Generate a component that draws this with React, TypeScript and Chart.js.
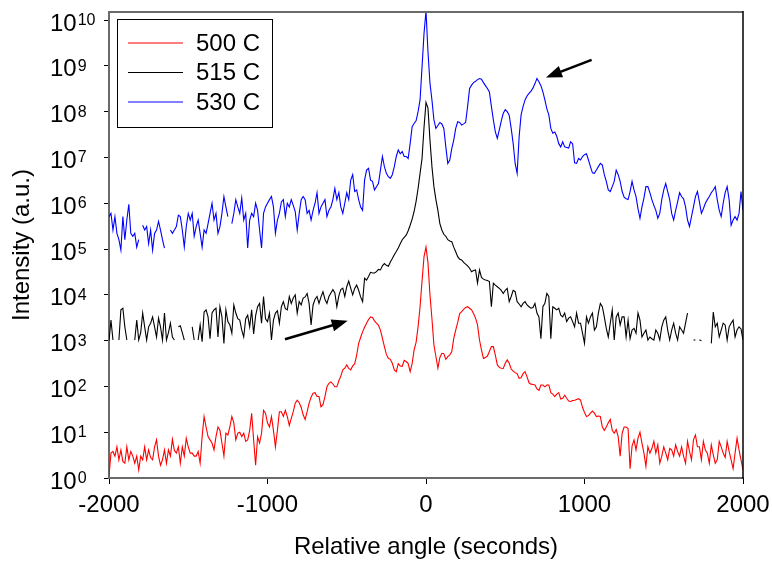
import React, { useEffect, useRef } from 'react';
import { Chart, registerables } from 'chart.js';

Chart.register(...registerables);

// Relative angle (seconds)
const ANGLES = [
  -2000, -1987.5, -1975, -1962.5, -1950, -1937.5, -1925, -1912.5, -1900, -1887.5, -1875, -1862.5, -1850, -1837.5, -1825, -1812.5,
  -1800, -1787.5, -1775, -1762.5, -1750, -1737.5, -1725, -1712.5, -1700, -1687.5, -1675, -1662.5, -1650, -1637.5, -1625, -1612.5,
  -1600, -1587.5, -1575, -1562.5, -1550, -1537.5, -1525, -1512.5, -1500, -1487.5, -1475, -1462.5, -1450, -1437.5, -1425, -1412.5,
  -1400, -1387.5, -1375, -1362.5, -1350, -1337.5, -1325, -1312.5, -1300, -1287.5, -1275, -1262.5, -1250, -1237.5, -1225, -1212.5,
  -1200, -1187.5, -1175, -1162.5, -1150, -1137.5, -1125, -1112.5, -1100, -1087.5, -1075, -1062.5, -1050, -1037.5, -1025, -1012.5,
  -1000, -987.5, -975, -962.5, -950, -937.5, -925, -912.5, -900, -887.5, -875, -862.5, -850, -837.5, -825, -812.5,
  -800, -787.5, -775, -762.5, -750, -737.5, -725, -712.5, -700, -687.5, -675, -662.5, -650, -637.5, -625, -612.5,
  -600, -587.5, -575, -562.5, -550, -537.5, -525, -512.5, -500, -487.5, -475, -462.5, -450, -437.5, -425, -412.5,
  -400, -387.5, -375, -362.5, -350, -337.5, -325, -312.5, -300, -287.5, -275, -262.5, -250, -237.5, -225, -212.5,
  -200, -187.5, -175, -162.5, -150, -137.5, -125, -112.5, -100, -87.5, -75, -62.5, -50, -37.5, -25, -12.5,
  0, 12.5, 25, 37.5, 50, 62.5, 75, 87.5, 100, 112.5, 125, 137.5, 150, 162.5, 175, 187.5,
  200, 212.5, 225, 237.5, 250, 262.5, 275, 287.5, 300, 312.5, 325, 337.5, 350, 362.5, 375, 387.5,
  400, 412.5, 425, 437.5, 450, 462.5, 475, 487.5, 500, 512.5, 525, 537.5, 550, 562.5, 575, 587.5,
  600, 612.5, 625, 637.5, 650, 662.5, 675, 687.5, 700, 712.5, 725, 737.5, 750, 762.5, 775, 787.5,
  800, 812.5, 825, 837.5, 850, 862.5, 875, 887.5, 900, 912.5, 925, 937.5, 950, 962.5, 975, 987.5,
  1000, 1012.5, 1025, 1037.5, 1050, 1062.5, 1075, 1087.5, 1100, 1112.5, 1125, 1137.5, 1150, 1162.5, 1175, 1187.5,
  1200, 1212.5, 1225, 1237.5, 1250, 1262.5, 1275, 1287.5, 1300, 1312.5, 1325, 1337.5, 1350, 1362.5, 1375, 1387.5,
  1400, 1412.5, 1425, 1437.5, 1450, 1462.5, 1475, 1487.5, 1500, 1512.5, 1525, 1537.5, 1550, 1562.5, 1575, 1587.5,
  1600, 1612.5, 1625, 1637.5, 1650, 1662.5, 1675, 1687.5, 1700, 1712.5, 1725, 1737.5, 1750, 1762.5, 1775, 1787.5,
  1800, 1812.5, 1825, 1837.5, 1850, 1862.5, 1875, 1887.5, 1900, 1912.5, 1925, 1937.5, 1950, 1962.5, 1975, 1987.5,
  2000,
];

const SERIES_LABELS = ['500 C', '515 C', '530 C'];
const SERIES_COLORS = ['#ff0000', '#000000', '#0000ff'];

// 500 C intensity (a.u.)
const I_500 = [
  1.1, 3.5, 3.8, 3.0, 4.8, 2.5, 4.1, 2.3, 2.1, 4.8, 2.5, 3.8, 3.0, 2.1, 3.0, 1.5,
  3.0, 2.5, 4.8, 2.5, 4.1, 2.8, 2.5, 4.8, 6.8, 3.0, 1.9, 2.5, 4.1, 2.1, 4.1, 3.0,
  7.0, 4.0, 3.5, 4.8, 2.1, 4.8, 3.0, 7.4, 4.8, 3.5, 3.5, 3.0, 3.0, 3.8, 2.1, 8.0,
  22, 13, 8.0, 6.8, 5.8, 4.1, 8.0, 13, 11, 5.8, 3.0, 9.5, 8.7, 13, 22, 16,
  6.8, 9.5, 10, 8.0, 9.5, 6.3, 6.8, 11, 26, 6.8, 1.9, 8.0, 5.8, 9.5, 30, 26,
  16, 13, 22, 11, 4.8, 11, 28, 28, 22, 30, 22, 14, 20, 28, 43, 50,
  44, 35, 24, 19, 28, 43, 58, 71, 73, 60, 60, 36, 40, 60, 98, 117,
  125, 113, 98, 98, 133, 168, 230, 250, 295, 247, 230, 280, 310, 480, 870, 1170,
  1550, 1950, 2400, 2900, 3300, 3200, 2700, 2400, 2150, 1700, 1130, 740, 500, 410, 390, 320,
  230, 210, 315, 280, 275, 370, 350, 315, 210, 315, 630, 920, 2000, 5500, 2.0e4, 6.8e4,
  1.1e5, 5.0e4, 1.0e4, 3000, 800, 450, 250, 430, 530, 520, 390, 445, 490, 570, 1120, 1700,
  2500, 3900, 4300, 4800, 5300, 5500, 5100, 4700, 3900, 3100, 2200, 1030, 630, 410, 430, 460,
  580, 740, 740, 480, 295, 260, 250, 247, 320, 380, 320, 240, 215, 200, 190, 150,
  155, 190, 210, 162, 120, 112, 110, 107, 88, 82, 107, 107, 98, 107, 107, 73,
  68, 60, 68, 73, 53, 55, 64, 55, 48, 47, 49, 50, 52, 54, 50, 35,
  27, 22, 23, 26, 29, 26, 22, 22.5, 22, 13, 11, 13, 16, 19, 11, 9.5,
  11.5, 8.0, 3.0, 9.5, 13, 13, 12, 1.6, 5.0, 6.8, 4.1, 7.4, 10, 5.8, 3.5, 1.8,
  4.8, 3.5, 4.4, 6.3, 3.5, 5.3, 2.1, 3.0, 4.8, 3.5, 2.5, 4.4, 4.1, 3.0, 5.3, 3.8,
  3.0, 4.8, 3.0, 2.1, 6.3, 3.8, 2.5, 6.8, 8.7, 4.8, 4.8, 2.5, 6.3, 4.1, 3.5, 2.1,
  5.3, 3.2, 2.1, 2.5, 6.3, 4.8, 3.5, 2.8, 6.3, 3.8, 2.5, 1.6, 3.5, 7.4, 4.1, 2.5,
  1.5,
];

// 515 C intensity (a.u.)
const I_515 = [
  1.0e3, 2.8e3, 1.03e3, null, null, 1.03e3, 4.7e3, 5.1e3, 2.0e3, 1.03e3, null, null, null, 1.03e3, 2.8e3, 1.03e3,
  1.5e3, 4.0e3, 2.0e3, 1.03e3, 2.0e3, 2.4e3, 3.3e3, 2.0e3, 1.2e3, 3.1e3, 2.0e3, 1.03e3, 4.0e3, 1.03e3, 1.5e3, 2.4e3,
  1.2e3, 1.03e3, null, 2.0e3, 2.1e3, 1.5e3, 1.03e3, null, null, null, 2.0e3, 1.03e3, null, 1.03e3, 2.2e3, 9.5e2,
  4.2e3, 4.7e3, 3.3e3, 1.1e3, 4.0e3, 4.7e3, 5.1e3, 1.2e3, 5.5e3, 3.3e3, 8.7e2, 4.7e3, 2.6e3, 2.2e3, 1.45e3, 6.0e3,
  4.0e3, 3.0e3, 2.8e3, 1.7e3, 1.2e3, 3.0e3, 3.6e3, 2.0e3, 4.7e3, 1.4e3, 3.5e3, 5.5e3, 6.5e3, 2.4e3, 9.2e3, 3.0e3,
  2.6e3, 4.0e3, 1.03e3, 2.8e3, 4.0e3, 4.5e3, 2.4e3, 5.5e3, 7.1e3, 5.0e3, 4.7e3, 9.2e3, 6.5e3, 8.5e3, 1.0e4, 4.0e3,
  7.1e3, 6.0e3, 8.5e3, 9.0e3, 1.07e4, 6.5e3, 2.2e3, 6.0e3, 8.0e3, 9.2e3, 6.5e3, 9.0e3, 1.17e4, 8.0e3, 6.5e3, 9.2e3,
  1.1e4, 1.3e4, 1.1e4, 5.5e3, 9.5e3, 1.3e4, 1.4e4, 9.2e3, 1.5e4, 2.0e4, 1.4e4, 1.0e4, 1.38e4, 1.63e4, 1.26e4, 9.0e3,
  7.1e3, 2.3e4, 2.1e4, 2.5e4, 3.1e4, 3.0e4, 3.0e4, 3.2e4, 3.6e4, 3.5e4, 4.3e4, 4.8e4, 4.4e4, 4.2e4, 5.2e4, 6.2e4,
  7.5e4, 8.8e4, 1.05e5, 1.3e5, 1.6e5, 1.8e5, 2.0e5, 2.5e5, 3.3e5, 4.5e5, 6.6e5, 1.1e6, 2.1e6, 4.5e6, 9.5e6, 4.5e7,
  1.6e8, 1.2e8, 2.4e7, 6.3e6, 2.3e6, 1.2e6, 7.0e5, 3.6e5, 2.6e5, 2.1e5, 1.9e5, 1.6e5, 1.5e5, 1.45e5, 1.1e5, 8.7e4,
  6.8e4, 6.0e4, 5.8e4, 5.1e4, 4.7e4, 4.3e4, 3.8e4, 3.2e4, 3.4e4, 3.5e4, 1.8e4, 3.5e4, 2.4e4, 2.2e4, 2.1e4, 2.05e4,
  1.95e4, 5.5e3, 1.8e4, 1.63e4, 1.5e4, 1.38e4, 1.25e4, 1.07e4, 1.26e4, 1.38e4, 7.1e3, 9.2e3, 1.25e4, 1.17e4, 7.1e3, 6.3e3,
  5.5e3, 6.5e3, 7.1e3, 6.0e3, 5.5e3, 5.1e3, 5.3e3, 6.5e3, 4.0e3, 3.3e3, 1.1e3, 5.5e3, 6.5e3, 1.07e4, 9.2e3, 1.1e3,
  5.5e3, 5.1e3, 4.7e3, 5.1e3, 3.6e3, 3.3e3, 4.0e3, 2.6e3, 3.1e3, 3.3e3, 2.6e3, 2.0e3, 4.0e3, 2.4e3, 2.4e3, 1.45e3,
  8.7e2, 3.3e3, 2.4e3, 3.3e3, 4.0e3, 1.7e3, 2.0e3, 4.0e3, 6.5e3, 5.5e3, 3.3e3, 1.85e3, 1.2e3, 2.4e3, 4.7e3, 1.03e3,
  3.3e3, 4.0e3, 2.2e3, 3.3e3, 3.3e3, 1.2e3, 2.8e3, 1.1e3, 1.7e3, 1.85e3, 1.45e3, 4.0e3, 2.8e3, 1.2e3, 1.45e3, 1.7e3,
  1.03e3, 1.2e3, 1.1e3, 1.03e3, 1.7e3, 1.45e3, 1.03e3, 2.0e3, 2.8e3, 3.3e3, 1.7e3, 1.03e3, 1.7e3, 2.4e3, 1.45e3, 1.03e3,
  2.0e3, 1.7e3, 1.45e3, 2.4e3, 4.0e3, null, null, 1.03e3, 1.03e3, null, 1.03e3, 1.0e3, null, null, null, null,
  8.7e2, 4.2e3, 2.0e3, 2.4e3, 1.2e3, 1.7e3, 2.4e3, 2.2e3, 1.03e3, 2.0e3, 2.4e3, 2.8e3, 1.2e3, 1.7e3, 2.0e3, 1.8e3,
  1.03e3,
];

// 530 C intensity (a.u.)
const I_530 = [
  5.1e5, 6.0e5, 2.6e5, 5.1e5, 2.2e5, 1.6e5, 9.5e4, 5.1e5, 1.6e5, 4.3e5, 9.5e5, 2.2e5, 1.9e5, 2.2e5, 1.1e5, 1.6e5,
  null, 3.3e5, 2.6e5, 3.1e5, 1.3e5, 2.6e5, 9.5e4, 2.2e5, 2.6e5, 4.0e5, 2.6e5, 1.6e5, 1.05e5, null, null, 2.6e5,
  2.2e5, 2.6e5, 3.1e5, 5.5e5, 5.1e5, 2.6e5, 1.1e5, 3.1e5, 6.0e5, 4.3e5, 6.0e5, 1.9e5, 3.1e5, 4.3e5, 2.2e5, 1.1e5,
  2.6e5, 2.2e5, 3.6e5, 6.0e5, 1.0e6, 4.3e5, 6.0e5, 2.2e5, 3.1e5, 6.0e5, 1.4e6, 8.3e5, 5.1e5, null, 3.6e5, 6.0e5,
  1.2e6, 8.3e5, 6.0e5, 1.3e6, 4.3e5, 6.0e5, 1.05e5, 4.3e5, 6.0e5, 5.1e5, 1.0e6, 7.0e5, 2.6e5, 1.05e5, 6.0e5, 8.3e5,
  1.0e6, 1.2e6, 1.4e6, 8.3e5, 2.2e5, 4.3e5, 6.0e5, 1.07e6, 1.2e6, 5.1e5, 1.0e6, 8.3e5, 1.2e6, 9.0e5, 6.6e5, 2.6e5,
  6.0e5, 1.2e6, 1.4e6, 1.2e6, 6.0e5, 7.0e5, 4.3e5, 7.0e5, 1.0e6, 1.7e6, 6.0e5, 8.3e5, 1.0e6, 1.2e6, 5.1e5, 7.0e5,
  8.3e5, 1.2e6, 2.1e6, 1.2e6, 1.7e6, 8.3e5, 6.0e5, 1.0e6, 1.7e6, 1.2e6, 3.2e6, 4.2e6, 1.8e6, 1.95e6, 1.2e6, 8.3e5,
  7.0e5, 3.2e6, 5.3e6, 5.8e6, 3.2e6, 3.0e6, 1.95e6, 2.3e6, 2.7e6, 5.3e6, 1.05e7, 6.3e6, 4.5e6, 3.8e6, 3.5e6, 4.2e6,
  6.3e6, 1.05e7, 1.45e7, 1.2e7, 1.35e7, 1.05e7, 1.05e7, 9.5e6, 2.0e7, 4.7e7, 5.5e7, 6.3e7, 1.0e8, 1.8e8, 9.5e8, 5.1e9,
  1.6e10, 2.0e9, 4.2e8, 1.8e8, 6.6e7, 4.3e7, 5.0e7, 5.8e7, 5.4e7, 4.3e7, 1.7e7, 7.4e6, 8.8e6, 1.55e7, 2.4e7, 4.3e7,
  6.0e7, 5.8e7, 5.1e7, 5.4e7, 5.8e7, 1.3e8, 3.2e8, 3.8e8, 4.3e8, 4.6e8, 5.0e8, 5.3e8, 5.1e8, 4.3e8, 3.7e8, 3.2e8,
  2.7e8, 1.3e8, 6.6e7, 3.6e7, 2.6e7, 4.0e7, 6.3e7, 9.2e7, 1.1e8, 1.0e8, 8.3e7, 4.3e7, 2.0e7, 7.4e6, 4.5e6, 2.8e7,
  8.5e7, 1.3e8, 1.8e8, 2.2e8, 2.5e8, 2.8e8, 3.3e8, 4.1e8, 5.3e8, 4.5e8, 3.7e8, 2.7e8, 1.8e8, 1.15e8, 8.5e7, 4.3e7,
  3.4e7, 3.6e7, 2.9e7, 2.0e7, 1.7e7, 2.2e7, 1.7e7, 1.65e7, 1.6e7, 2.2e7, 2.0e7, 7.6e6, 7.4e6, 9.5e6, 8.8e6, 1.05e7,
  1.15e7, 1.2e7, 8.8e6, 6.3e6, 4.6e6, 4.5e6, 5.3e6, 6.3e6, 7.4e6, 6.8e6, 4.2e6, 3.0e6, 1.95e6, 1.8e6, 2.3e6, 3.0e6,
  5.3e6, 4.2e6, 3.0e6, 1.8e6, 1.35e6, 1.25e6, 1.2e6, 1.8e6, 3.0e6, 1.95e6, 1.4e6, 7.6e5, 4.7e5, 8.3e5, 1.3e6, 2.3e6,
  2.3e6, 1.7e6, 1.2e6, 9.0e5, 7.0e5, 4.7e5, 6.0e5, 1.2e6, 1.95e6, 2.7e6, 1.8e6, 1.2e6, 6.0e5, 4.3e5, 7.0e5, 1.07e6,
  1.7e6, 1.4e6, 1.25e6, 8.3e5, 4.3e5, 3.1e5, 5.1e5, 8.3e5, 1.4e6, 1.8e6, 1.07e6, 6.0e5, 7.6e5, 1.0e6, 1.2e6, 1.4e6,
  1.7e6, 1.95e6, 2.3e6, 1.2e6, 7.0e5, 5.1e5, 1.0e6, 1.7e6, 2.3e6, 1.2e6, 3.3e5, 4.3e5, 5.1e5, 4.3e5, 6.0e5, 1.8e6,
  7.0e5,
];

const X_TICKS = [-2000, -1000, 0, 1000, 2000];
const Y_TICK_VALUES = [1, 10, 1e2, 1e3, 1e4, 1e5, 1e6, 1e7, 1e8, 1e9, 1e10];
const Y_TICK_BASE = '10';
const Y_TICK_EXPONENTS = ['0', '1', '2', '3', '4', '5', '6', '7', '8', '9', '10'];

// annotation arrows (data coordinates: tail -> tip)
const ARROW_TAIL_X = [-890, 1045];
const ARROW_TAIL_Y = [1070, 1.35e9];
const ARROW_TIP_X = [-494, 757];
const ARROW_TIP_Y = [2700, 5.6e8];

const FONT = "'Liberation Sans', Arial, Helvetica, sans-serif";

const decorPlugin = {
  id: 'decor',
  afterDraw(chart: any) {
    const ctx = chart.ctx;
    const { left, right, top, bottom } = chart.chartArea;
    const xs = chart.scales.x;
    const ys = chart.scales.y;
    ctx.save();
    // frame top & right
    ctx.strokeStyle = '#6a6a6a';
    ctx.lineWidth = 2;
    ctx.beginPath();
    ctx.moveTo(left - 1, top);
    ctx.lineTo(right, top);
    ctx.stroke();
    ctx.strokeStyle = '#000';
    ctx.lineWidth = 1.5;
    ctx.beginPath();
    ctx.moveTo(right, top - 1);
    ctx.lineTo(right, bottom + 1);
    ctx.stroke();

    // y tick labels with superscript exponents
    ctx.fillStyle = '#000';
    ctx.textAlign = 'left';
    ctx.textBaseline = 'alphabetic';
    Y_TICK_VALUES.forEach((v, i) => {
      const py = ys.getPixelForValue(v);
      ctx.font = `24px ${FONT}`;
      ctx.fillText(Y_TICK_BASE, 50, py + 10.5);
      const w = ctx.measureText(Y_TICK_BASE).width;
      ctx.font = `16px ${FONT}`;
      ctx.fillText(Y_TICK_EXPONENTS[i], 50 + w + 1, py + 5);
    });

    // arrows
    ctx.fillStyle = '#000';
    ctx.strokeStyle = '#000';
    for (let i = 0; i < ARROW_TAIL_X.length; i++) {
      const x1 = xs.getPixelForValue(ARROW_TAIL_X[i]);
      const y1 = ys.getPixelForValue(ARROW_TAIL_Y[i]);
      const x2 = xs.getPixelForValue(ARROW_TIP_X[i]);
      const y2 = ys.getPixelForValue(ARROW_TIP_Y[i]);
      const ang = Math.atan2(y2 - y1, x2 - x1);
      const hl = 16;
      const hw = 6;
      const bx = x2 - hl * Math.cos(ang);
      const by = y2 - hl * Math.sin(ang);
      ctx.lineWidth = 2.6;
      ctx.beginPath();
      ctx.moveTo(x1, y1);
      ctx.lineTo(bx + 2 * Math.cos(ang), by + 2 * Math.sin(ang));
      ctx.stroke();
      ctx.beginPath();
      ctx.moveTo(x2, y2);
      ctx.lineTo(bx - hw * Math.sin(ang), by + hw * Math.cos(ang));
      ctx.lineTo(bx + hw * Math.sin(ang), by - hw * Math.cos(ang));
      ctx.closePath();
      ctx.fill();
    }

    // legend box
    const bx0 = left + 8.5;
    const by0 = top + 7.5;
    const bw = 155;
    const bh = 108;
    ctx.fillStyle = '#fff';
    ctx.fillRect(bx0, by0, bw, bh);
    ctx.strokeStyle = '#000';
    ctx.lineWidth = 1;
    ctx.strokeRect(bx0, by0, bw, bh);
    ctx.font = `24px ${FONT}`;
    ctx.textBaseline = 'middle';
    ctx.textAlign = 'left';
    chart.data.datasets.forEach((ds: any, i: number) => {
      const yy = top + 31 + i * 29.5;
      ctx.strokeStyle = ds.borderColor;
      ctx.lineWidth = 1.2;
      ctx.beginPath();
      ctx.moveTo(left + 19, yy);
      ctx.lineTo(left + 74, yy);
      ctx.stroke();
      ctx.fillStyle = '#000';
      ctx.fillText(ds.label, left + 87, yy + 1);
    });
    ctx.restore();
  },
};

export default function App() {
  const ref = useRef<HTMLCanvasElement | null>(null);

  useEffect(() => {
    if (!ref.current) return;
    const series = [I_500, I_515, I_530];
    const chart = new Chart(ref.current, {
      type: 'line',
      data: {
        datasets: series.map((vals, i) => ({
          label: SERIES_LABELS[i],
          data: ANGLES.map((a, j) => ({ x: a, y: vals[j] })),
          borderColor: SERIES_COLORS[i],
          backgroundColor: SERIES_COLORS[i],
          borderWidth: 1.1,
          pointRadius: 0,
          tension: 0,
          spanGaps: false,
        })),
      },
      options: {
        animation: false,
        responsive: false,
        devicePixelRatio: 1,
        layout: { padding: { left: 50, top: 12, right: 29, bottom: 0 } },
        plugins: { legend: { display: false }, tooltip: { enabled: false } },
        scales: {
          x: {
            type: 'linear',
            min: -2000,
            max: 2000,
            afterBuildTicks: (s: any) => {
              s.ticks = X_TICKS.map((v) => ({ value: v }));
            },
            afterFit: (s: any) => {
              s.height = 84;
              s.paddingLeft = 0;
              s.paddingRight = 0;
            },
            ticks: {
              callback: (v: any) => String(v),
              font: { family: FONT, size: 24 },
              color: '#000',
              padding: 7,
              maxRotation: 0,
              autoSkip: false,
            },
            grid: { drawOnChartArea: false, drawTicks: true, tickLength: 6, color: '#000' },
            border: { color: '#6a6a6a', width: 2 },
            title: {
              display: true,
              text: 'Relative angle (seconds)',
              font: { family: FONT, size: 24 },
              color: '#000',
              padding: { top: 0, bottom: 0 },
            },
          },
          y: {
            type: 'logarithmic',
            min: 1,
            max: 1.5e10,
            afterBuildTicks: (s: any) => {
              s.ticks = Y_TICK_VALUES.map((v) => ({ value: v }));
            },
            afterFit: (s: any) => {
              s.width = 59;
            },
            ticks: { display: false },
            grid: { drawOnChartArea: false, drawTicks: true, tickLength: 5, color: '#000' },
            border: { color: '#6a6a6a', width: 2 },
            title: {
              display: true,
              text: 'Intensity (a.u.)',
              font: { family: FONT, size: 24 },
              color: '#000',
              padding: { top: -42, bottom: 0 },
            },
          },
        },
      },
      plugins: [decorPlugin],
    } as any);
    return () => chart.destroy();
  }, []);

  return (
    <div style={{ position: 'absolute', left: 0, top: 0, width: 772, height: 562, background: '#fff' }}>
      <canvas ref={ref} width={772} height={562} style={{ display: 'block' }} />
    </div>
  );
}
